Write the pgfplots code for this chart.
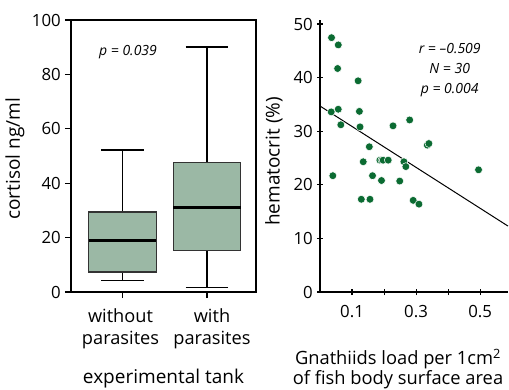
\documentclass[border=0pt]{standalone}
\usepackage{fontspec}
\setmainfont{Open Sans}
\usepackage{pgfplots}
\pgfplotsset{compat=1.18}
\usepgfplotslibrary{statistics}
\definecolor{boxfill}{HTML}{9BB8A5}
\definecolor{dotgreen}{HTML}{0B6B32}
\begin{document}
\fontsize{19}{22}\selectfont
\begin{tikzpicture}
\useasboundingbox (0,0) rectangle (509pt,389pt);
\pgfplotsset{
  every axis/.append style={
    font=\fontsize{19}{22}\selectfont,
    /pgf/number format/assume math mode=true,
    scale only axis,
    axis line style={line width=1.1pt},
    tick style={line width=1.1pt, black},
    tick align=outside,
    major tick length=6pt,
    yticklabel style={font=\fontsize{16.8}{19}\selectfont, inner sep=0pt, anchor=east, xshift=-4pt},
    xticklabel style={inner sep=0pt, anchor=north, yshift=-10pt},
    ylabel style={anchor=center, rotate=0},
  }
}
% ---------- left: boxplot ----------
\begin{axis}[
  at={(71pt,97pt)}, anchor=south west,
  width=185pt, height=272pt,
  xmin=0.39, xmax=2.58, ymin=0, ymax=100,
  ytick={0,20,...,100},
  xtick={1,2},
  xticklabels={without\\parasites, with\\parasites},
  xticklabel style={align=center, font=\fontsize{18.2}{22}\selectfont, xshift=\ticknum*7pt-2pt},
  xtick pos=bottom, ytick pos=left,
  ylabel={cortisol ng/ml},
  ylabel style={at={(axis description cs:-0.303,0.49)}},
  xlabel={experimental tank},
  xlabel style={at={(axis description cs:0.5,-0.338)}, anchor=base},
  boxplot/draw direction=y,
]
\addplot[draw=black!80, fill=boxfill, line width=1.1pt,
  boxplot prepared={median=19.1, upper quartile=29.4, lower quartile=7.35,
    upper whisker=52.2, lower whisker=4.3, draw position=1,
    box extend=0.8, whisker extend=0.5,
    every median/.style={line width=3pt, black},
    every whisker/.style={black, line width=1.2pt}}] coordinates {};
\addplot[draw=black!80, fill=boxfill, line width=1.1pt,
  boxplot prepared={median=31.1, upper quartile=47.5, lower quartile=15.2,
    upper whisker=90.1, lower whisker=1.7, draw position=2,
    box extend=0.8, whisker extend=0.5,
    every median/.style={line width=3pt, black},
    every whisker/.style={black, line width=1.2pt}}] coordinates {};
\node[font=\fontsize{14}{17}\selectfont\itshape] at (axis cs:1.065,88.2) {p = 0.039};
\end{axis}
% ---------- right: scatter ----------
\begin{axis}[
  at={(320pt,97pt)}, anchor=south west,
  width=188pt, height=272pt,
  xmin=0, xmax=0.587, ymin=0, ymax=50.75,
  axis x line=bottom, axis y line=left,
  axis line style={-},
  xtick={0.1,0.2,0.3,0.4,0.5},
  xticklabels={0.1,,0.3,,0.5},
  xticklabel style={font=\fontsize{16.8}{19}\selectfont},
  ytick={0,10,...,50},
  ylabel={hematocrit (\%)},
  ylabel style={at={(axis description cs:-0.245,0.48)}},
  xlabel={Gnathiids load per 1cm\textsuperscript{2}\\of fish body surface area},
  xlabel style={at={(axis description cs:0.415,-0.21)}, anchor=north, inner sep=0pt,
    align=center, font=\fontsize{18.3}{19.5}\selectfont},
  clip=false,
]
\addplot[black, line width=1pt, no marks] coordinates {(0,34.7) (0.587,12.3)};
\addplot[only marks, mark=*, mark size=3.9pt,
  mark options={fill=dotgreen, draw=white, line width=0.5pt}] coordinates {
(0.036,47.45) (0.057,46.1) (0.055,41.7) (0.057,34.1) (0.035,33.6)
(0.065,31.2) (0.040,21.7) (0.119,39.4) (0.123,33.7) (0.125,30.8)
(0.154,27.1) (0.135,24.3) (0.164,21.7) (0.129,17.3) (0.156,17.3)
(0.192,20.8) (0.187,24.6) (0.193,24.6) (0.197,24.6) (0.213,24.6)
(0.228,31.0) (0.280,32.1) (0.262,24.3) (0.268,23.4) (0.249,20.7)
(0.291,17.1) (0.309,16.4) (0.335,27.4) (0.340,27.7) (0.495,22.8)
};
\node[font=\fontsize{14}{20}\selectfont\itshape, align=center] at (axis cs:0.405,41.4)
  {r = –0.509\\N = 30\\p = 0.004};
\end{axis}
\end{tikzpicture}
\end{document}
